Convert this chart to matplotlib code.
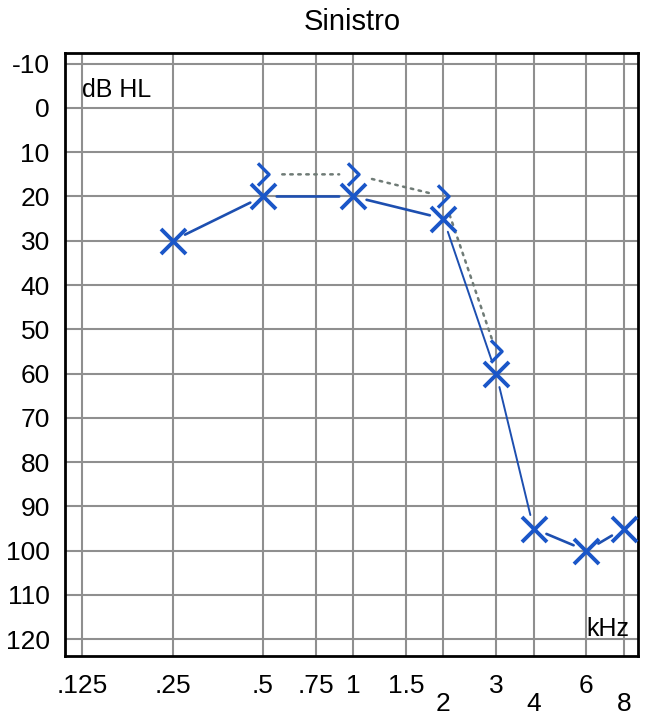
import matplotlib
matplotlib.use('Agg')
import matplotlib.pyplot as plt
from matplotlib.path import Path

plt.rcParams['font.family'] = ['Liberation Sans', 'DejaVu Sans']

# audiogram, left ear
freqs = [0.125, 0.25, 0.5, 0.75, 1, 1.5, 2, 3, 4, 6, 8]
upper_labels = ['.125', '.25', '.5', '.75', '1', '1.5', '', '3', '', '6', '']
lower_labels = ['', '', '', '', '', '', '2', '', '4', '', '8']
db_ticks = list(range(-10, 121, 10))

air_freq = [0.25, 0.5, 1, 2, 3, 4, 6, 8]
air_db = [30, 20, 20, 25, 60, 95, 100, 95]

bone_freq = [0.5, 1, 2, 3]
bone_db = [15, 15, 20, 55]

BLUE = '#1a56c8'
LINE_BLUE = '#1d4fb0'
GRID = '#8f8f8f'

fig = plt.figure(figsize=(6.45, 7.19), dpi=100)
ax = fig.add_axes([0.1008, 0.0876, 0.888, 0.838])

ax.set_xscale('log')
ax.set_xlim(0.1095, 8.9)
ax.set_ylim(123.8, -12.3)

for f in freqs:
    ax.axvline(f, color=GRID, lw=1.5, zorder=1)
for d in db_ticks:
    ax.axhline(d, color=GRID, lw=1.5, zorder=1)

for s in ax.spines.values():
    s.set_linewidth(2.0)
    s.set_color('black')

ax.set_xticks(freqs)
ax.set_xticklabels(upper_labels)
ax.xaxis.set_minor_locator(plt.NullLocator())
ax.set_yticks(db_ticks)
ax.set_yticklabels([str(d) for d in db_ticks])
ax.tick_params(axis='both', length=0, labelsize=19)
ax.tick_params(axis='y', pad=11)
ax.tick_params(axis='x', pad=13)

# second row of frequency labels
for f, lab in zip(freqs, lower_labels):
    if lab:
        ax.annotate(lab, xy=(f, 0), xycoords=('data', 'axes fraction'),
                    xytext=(0, -48), textcoords='offset pixels',
                    ha='center', va='center', fontsize=19)

ax.text(0.03, 0.94, 'dB HL', transform=ax.transAxes, fontsize=18,
        ha='left', va='center')
ax.text(0.985, 0.045, 'kHz', transform=ax.transAxes, fontsize=18,
        ha='right', va='center')
fig.text(0.546, 0.970, 'Sinistro', fontsize=21, ha='center', va='center')

# air conduction: line segments with gaps around markers
for i in range(len(air_freq) - 1):
    lw = 1.4 if air_db[i + 1] - air_db[i] > 20 else 1.9
    ax.annotate('', xy=(air_freq[i + 1], air_db[i + 1]),
                xytext=(air_freq[i], air_db[i]),
                arrowprops=dict(arrowstyle='-', color=LINE_BLUE, lw=lw,
                                shrinkA=10, shrinkB=10), zorder=3)
ax.plot(air_freq, air_db, linestyle='none', marker='x', markersize=18,
        markeredgewidth=2.8, color=BLUE, zorder=4)

# bone conduction: dotted gray line and open chevrons
for i in range(len(bone_freq) - 1):
    ax.annotate('', xy=(bone_freq[i + 1], bone_db[i + 1]),
                xytext=(bone_freq[i], bone_db[i]),
                arrowprops=dict(arrowstyle='-', color='#6f7b76', lw=1.8,
                                linestyle=(0, (1, 2.2)),
                                shrinkA=14, shrinkB=10), zorder=3)
chevron = Path([(-0.5, 1), (0.5, 0), (-0.5, -1)],
               [Path.MOVETO, Path.LINETO, Path.LINETO])
ax.plot(bone_freq, bone_db, linestyle='none', marker=chevron, markersize=16,
        markeredgewidth=2.4, markerfacecolor='none', color=BLUE, zorder=4)

fig.savefig('out.png', dpi=100)
